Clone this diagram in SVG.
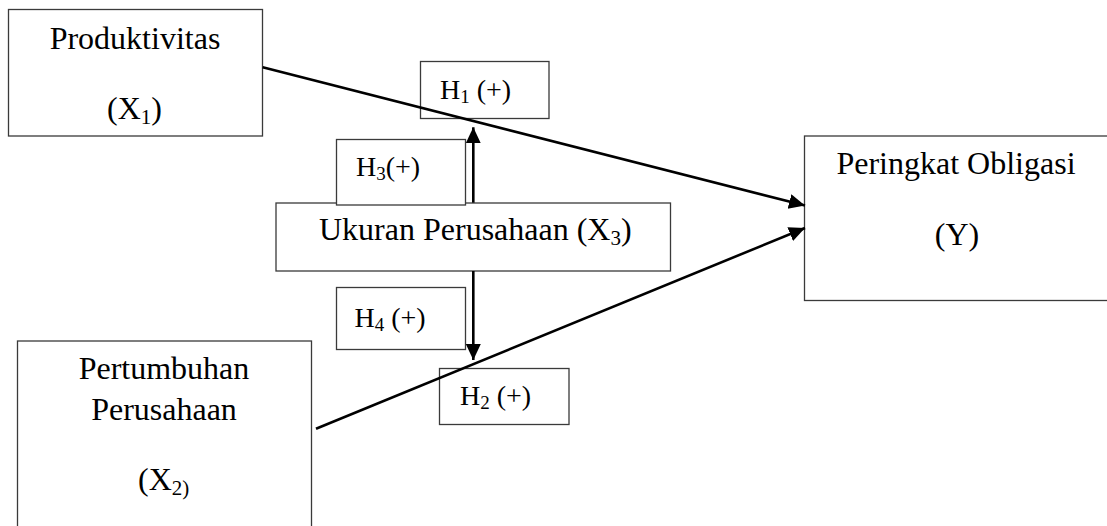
<svg xmlns="http://www.w3.org/2000/svg" width="1107" height="526" viewBox="0 0 1107 526">
<style>
  .box { fill: #ffffff; stroke: #3a3a3a; stroke-width: 1.3; }
  .t { font-family: "Liberation Serif", "Times New Roman", serif; font-size: 32px; fill: #000; }
  .h { font-family: "Liberation Serif", "Times New Roman", serif; font-size: 28px; fill: #000; }
  .c { text-anchor: middle; }
  .conn { stroke: #000; stroke-width: 2.6; fill: none; }
</style>
<defs>
  <marker id="ah" markerUnits="userSpaceOnUse" markerWidth="18" markerHeight="16" refX="16" refY="7.5" orient="auto">
    <path d="M0,0 L16,7.5 L0,15 z" fill="#000"/>
  </marker>
</defs>
<rect width="1107" height="526" fill="#ffffff"/>

<g id="node-x1">
  <rect class="box" x="8.5" y="9.5" width="254" height="126.5"/>
  <text class="t c" x="135" y="49">Produktivitas</text>
  <text class="t c" x="134.5" y="119">(X<tspan font-size="21" dy="5">1</tspan><tspan dy="-5">)</tspan></text>
</g>

<g id="node-x2">
  <rect class="box" x="17.5" y="341" width="294" height="200"/>
  <text class="t c" x="164" y="379">Pertumbuhan</text>
  <text class="t c" x="164" y="420">Perusahaan</text>
  <text class="t" x="138" y="490">(X<tspan font-size="21" dy="5">2)</tspan></text>
</g>

<g id="node-x3">
  <rect class="box" x="276" y="203" width="394.5" height="68"/>
  <text class="t" x="319" y="240">Ukuran Perusahaan (X<tspan font-size="21" dy="5">3</tspan><tspan dy="-5">)</tspan></text>
</g>

<g id="node-y">
  <rect class="box" x="804.5" y="136" width="320" height="164.5"/>
  <text class="t c" x="956" y="174">Peringkat Obligasi</text>
  <text class="t c" x="957" y="245">(Y)</text>
</g>

<g id="label-h1">
  <rect class="box" x="420.5" y="61.5" width="128.5" height="57"/>
  <text class="h" x="440" y="98.5">H<tspan font-size="19" dy="4">1</tspan><tspan dy="-4"> (+)</tspan></text>
</g>

<g id="label-h3">
  <rect class="box" x="336.5" y="139.5" width="129" height="65.5"/>
  <text class="h" x="356" y="176">H<tspan font-size="19" dy="4">3</tspan><tspan dy="-4">(+)</tspan></text>
</g>

<g id="label-h4">
  <rect class="box" x="336.5" y="287.5" width="129" height="62"/>
  <text class="h" x="354.5" y="326.5">H<tspan font-size="19" dy="4">4</tspan><tspan dy="-4"> (+)</tspan></text>
</g>

<g id="label-h2">
  <rect class="box" x="439.5" y="368.5" width="129.5" height="56"/>
  <text class="h" x="460" y="405">H<tspan font-size="19" dy="4">2</tspan><tspan dy="-4"> (+)</tspan></text>
</g>

<g id="connectors">
  <line class="conn" x1="262.7" y1="67.3" x2="805" y2="205.5" marker-end="url(#ah)"/>
  <line class="conn" x1="316" y1="428.7" x2="805" y2="228" marker-end="url(#ah)"/>
  <line class="conn" x1="473.3" y1="202.7" x2="473.3" y2="127.3" stroke-width="3" marker-end="url(#ah)"/>
  <line class="conn" x1="473.3" y1="271" x2="473.3" y2="360" stroke-width="3" marker-end="url(#ah)"/>
</g>
</svg>
